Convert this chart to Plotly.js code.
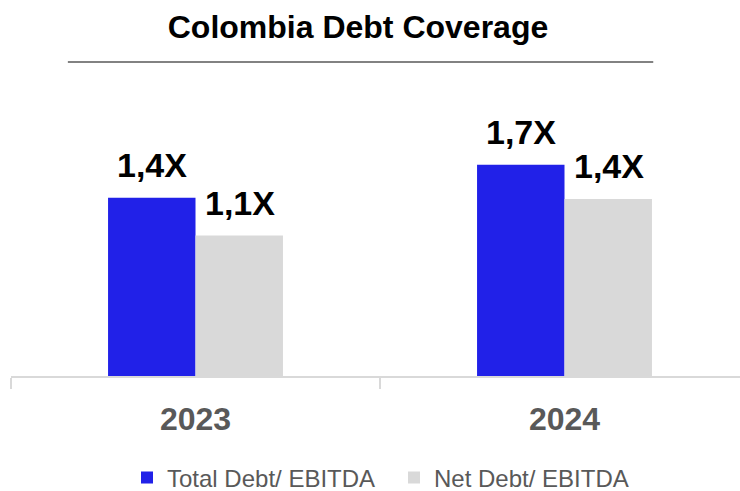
<!DOCTYPE html>
<html>
<head>
<meta charset="utf-8">
<script src="https://cdn.plot.ly/plotly-3.0.1.min.js"></script>
<style>html,body{margin:0;padding:0;background:#fff;}#chart{width:740px;height:491px;}</style>
</head>
<body>
<div id="chart"></div>
<script>
// ---- data ----
const years = ["2023", "2024"];
const totalDebtEbitda = [1.41, 1.67];
const netDebtEbitda = [1.11, 1.40];
const totalLabels = ["1,4X", "1,7X"];
const netLabels = ["1,1X", "1,4X"];
const seriesNames = ["Total Debt/ EBITDA", "Net Debt/ EBITDA"];

const FONT = '"Liberation Sans", Arial, sans-serif';
const BLUE = '#2121E8';
const GRAY = '#D9D9D9';

const traces = [
  {type: 'bar', name: seriesNames[0], x: years, y: totalDebtEbitda,
   marker: {color: BLUE}, hoverinfo: 'skip'},
  {type: 'bar', name: seriesNames[1], x: years, y: netDebtEbitda,
   marker: {color: GRAY}, hoverinfo: 'skip'}
];

const annotations = [];
for (let i = 0; i < years.length; i++) {
  annotations.push({x: i, y: totalDebtEbitda[i], text: '<b>' + totalLabels[i] + '</b>', showarrow: false,
    xref: 'x', yref: 'y', yanchor: 'bottom', xanchor: 'center', xshift: -44, yshift: 12,
    font: {family: FONT, size: 34, color: '#000000'}});
  annotations.push({x: i, y: netDebtEbitda[i], text: '<b>' + netLabels[i] + '</b>', showarrow: false,
    xref: 'x', yref: 'y', yanchor: 'bottom', xanchor: 'center', xshift: 44, yshift: 12,
    font: {family: FONT, size: 34, color: '#000000'}});
}

const layout = {
  width: 740, height: 491,
  margin: {l: 11, r: 0, t: 80, b: 115},
  paper_bgcolor: '#fff', plot_bgcolor: '#fff',
  font: {family: FONT},
  title: {text: '<b>Colombia Debt Coverage</b>', x: 358 / 740, xref: 'container', y: 0.945, yref: 'container',
          xanchor: 'center', yanchor: 'middle',
          font: {family: FONT, size: 32, color: '#000'}},
  barmode: 'group', bargap: 0.526, bargroupgap: 0,
  showlegend: true,
  legend: {orientation: 'h', x: 127 / 740, xref: 'container', xanchor: 'left',
           y: 13 / 491, yref: 'container', yanchor: 'middle',
           entrywidth: 222, entrywidthmode: 'pixels',
           font: {family: FONT, size: 24, color: '#595959'}, bgcolor: 'rgba(0,0,0,0)'},
  xaxis: {type: 'category', range: [-0.5, 1.4756], tickson: 'boundaries',
          showline: true, linecolor: GRAY, linewidth: 2,
          ticks: 'outside', ticklen: 11, tickwidth: 2, tickcolor: GRAY,
          ticklabelstandoff: 14,
          showgrid: false, zeroline: false, fixedrange: true, automargin: false,
          tickfont: {family: FONT, size: 32, color: '#595959', weight: 'bold'}},
  yaxis: {range: [0, 2.34], showticklabels: false, showline: false, ticks: '',
          showgrid: false, zeroline: false, fixedrange: true, automargin: false},
  shapes: [{type: 'line', xref: 'paper', yref: 'paper', x0: 0.078, x1: 0.881, y0: 1.061, y1: 1.061,
            line: {color: '#595959', width: 1.5}}],
  annotations: annotations
};

Plotly.newPlot('chart', traces, layout, {displayModeBar: false});
</script>
</body>
</html>
